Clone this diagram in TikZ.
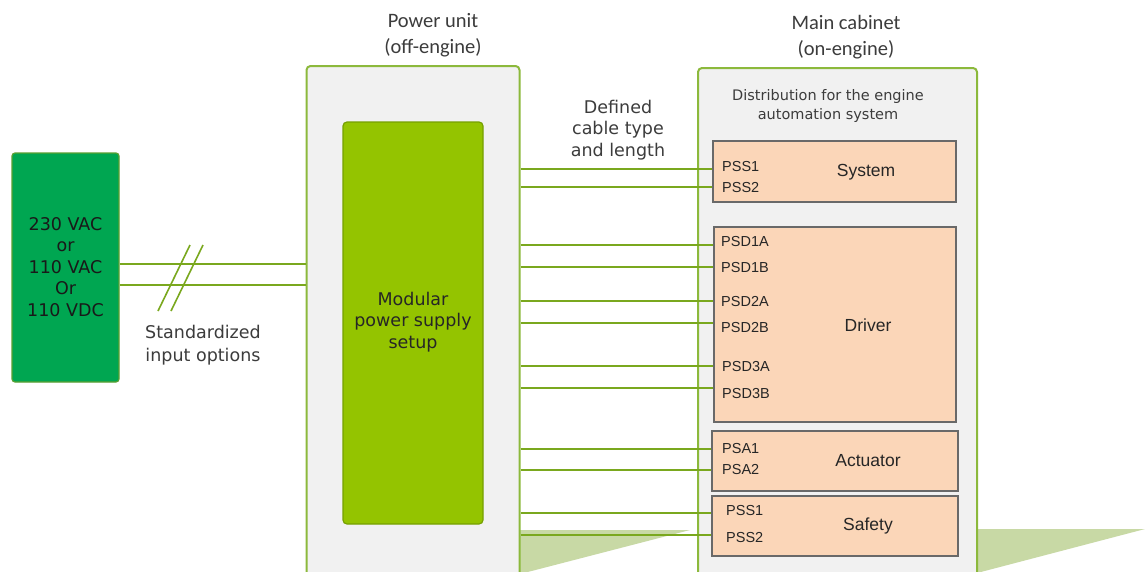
\documentclass[tikz,border=0pt]{standalone}
\usepackage{fontspec}
\setmainfont{DejaVu Sans}
\newfontfamily\calibf{Carlito}
\newfontfamily\arialf{Liberation Sans}
\definecolor{srcgreen}{RGB}{0,166,81}
\definecolor{srcedge}{RGB}{90,160,50}
\definecolor{wiregreen}{RGB}{122,168,30}
\definecolor{unitedge}{RGB}{140,185,60}
\definecolor{unitfill}{RGB}{241,241,241}
\definecolor{modfill}{RGB}{148,196,0}
\definecolor{modedge}{RGB}{118,160,0}
\definecolor{peach}{RGB}{251,214,184}
\definecolor{peachedge}{RGB}{105,105,105}
\definecolor{trigreen}{RGB}{200,217,165}
\definecolor{txtgrey}{RGB}{60,60,60}
\begin{document}
\begin{tikzpicture}[x=1pt,y=-1pt,
  srcbox/.style={draw=srcedge, fill=srcgreen, line width=1.2pt, rounded corners=3pt, inner sep=0pt},
  unitbox/.style={draw=unitedge, fill=unitfill, line width=2pt, rounded corners=4pt, inner sep=0pt},
  modbox/.style={draw=modedge, fill=modfill, line width=1.2pt, rounded corners=4pt, inner sep=0pt},
  subbox/.style={draw=peachedge, fill=peach, line width=1.2pt, inner sep=0pt},
  vtext/.style={font=\fontsize{17.5}{21.5}\selectfont, align=center, inner sep=0pt},
  ctitle/.style={font=\calibf\fontsize{20.5}{26}\selectfont, text=txtgrey, align=center, inner sep=0pt},
  port/.style={font=\arialf\fontsize{14.5}{17}\selectfont, text=black!85, anchor=west, inner sep=0pt},
  boxname/.style={font=\arialf\fontsize{17.5}{20}\selectfont, text=black!85, inner sep=0pt},
  wire/.style={draw=wiregreen, line width=2pt},
  tri/.style={fill=trigreen}]
\useasboundingbox (0,0) rectangle (1145,571);
\fill[white] (0,0) rectangle (1145,571);

% background triangles
\fill[tri] (520,530) -- (690,530) -- (520,574) -- cycle;
\fill[tri] (977,529) -- (1145,529) -- (977,573) -- cycle;

% source
\node[srcbox, minimum width=107pt, minimum height=229pt] (src) at (65.5,267.5) {};
\node[vtext, text=black!90] (srctxt) at (65.5,267) {230 VAC\\or\\110 VAC\\Or\\110 VDC};

% power unit
\node[unitbox, minimum width=213pt, minimum height=554pt] (pu) at (413,343) {};
\node[ctitle] (putitle) at (433,35) {Power unit\\(off-engine)};
\node[modbox, minimum width=140pt, minimum height=402pt] (mod) at (413,323) {};
\node[vtext, text=black!85] (modtxt) at (413,322) {Modular\\power supply\\setup};

% main cabinet
\node[unitbox, minimum width=279pt, minimum height=552pt] (mc) at (837.5,344) {};
\node[ctitle] (mctitle) at (846,37) {Main cabinet\\(on-engine)};
\node[font=\fontsize{14.5}{19}\selectfont, text=txtgrey, align=center, inner sep=0pt] (dist) at (828,106) {Distribution for the engine\\automation system};

% labels
\node[vtext, text=txtgrey] (cable) at (618,130) {Defined\\cable type\\and length};
\node[font=\fontsize{17.5}{23}\selectfont, text=txtgrey, align=center, inner sep=0pt] (std) at (203,345) {Standardized\\input options};

% sub boxes
\node[subbox, minimum width=243pt, minimum height=61pt] (sys) at (834.5,171.5) {};
\node[subbox, minimum width=242pt, minimum height=195pt] (drv) at (835,324.5) {};
\node[subbox, minimum width=246pt, minimum height=60pt] (act) at (835,461) {};
\node[subbox, minimum width=246pt, minimum height=60pt] (saf) at (835,526) {};

\node[boxname] (sysn) at (866,172) {System};
\node[boxname] (drvn) at (868,325) {Driver};
\node[boxname] (actn) at (868,461) {Actuator};
\node[boxname] (safn) at (868,526) {Safety};

\node[port] (p1) at (722,167) {PSS1};
\node[port] (p2) at (722,188) {PSS2};
\node[port] (p3) at (721,242) {PSD1A};
\node[port] (p4) at (721,268) {PSD1B};
\node[port] (p5) at (721,302) {PSD2A};
\node[port] (p6) at (721,328) {PSD2B};
\node[port] (p7) at (722,367) {PSD3A};
\node[port] (p8) at (722,393) {PSD3B};
\node[port] (p9) at (722,448) {PSA1};
\node[port] (p10) at (722,469) {PSA2};
\node[port] (p11) at (726,510) {PSS1};
\node[port] (p12) at (726,537) {PSS2};

% input wires
\draw[wire] (src.east |- 0,264) -- (pu.west |- 0,264);
\draw[wire] (src.east |- 0,285) -- (pu.west |- 0,285);
\draw[wiregreen, line width=1.6pt] (158,311) -- (190,245);
\draw[wiregreen, line width=1.6pt] (171,311) -- (203,245);

% output wires
\foreach \yy/\tgt in {169/sys,187/sys,245/drv,267/drv,301/drv,323/drv,366/drv,388/drv,449/act,470/act,513/saf,535/saf}
  \draw[wire] (pu.east |- 0,\yy) -- (\tgt.west |- 0,\yy);
\end{tikzpicture}
\end{document}
